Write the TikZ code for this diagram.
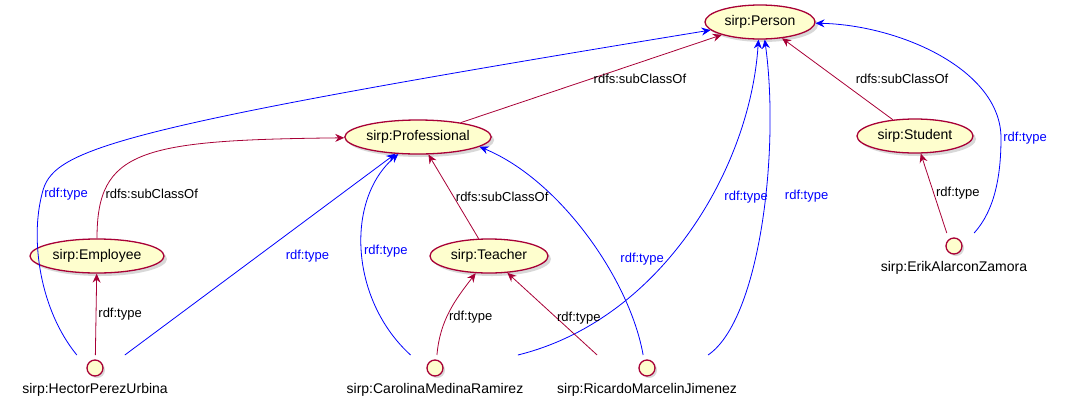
\documentclass[tikz,border=0pt]{standalone}
\usepackage{fontspec}
\setmainfont{Liberation Sans}
\usepackage{xcolor}
\usepackage{tikz}
\usetikzlibrary{arrows.meta, shapes.geometric, shadows}

\definecolor{umlred}{HTML}{A80036}
\definecolor{umlfill}{HTML}{FEFECE}
\definecolor{umlblue}{HTML}{0000FF}

\begin{document}
\begin{tikzpicture}[x=1pt, y=-1pt, >={Stealth[length=9pt, width=8pt, inset=3pt]},
        cls/.style={ellipse, draw=umlred, line width=1.3pt, fill=umlfill, minimum height=34pt, inner sep=0pt,
                font=\fontsize{14}{16}\selectfont, drop shadow={shadow xshift=3pt, shadow yshift=-3pt, fill=black!30}},
        inst/.style={anchor=north, inner sep=2pt, text height=36pt, text depth=4pt, font=\fontsize{14}{16}\selectfont},
        dot/.style={circle, draw=umlred, line width=1.3pt, fill=umlfill, minimum size=16pt, inner sep=0pt,
                drop shadow={shadow xshift=2pt, shadow yshift=-2pt, fill=black!30}},
        sub/.style={->, umlred, line width=0.8pt},
        typ/.style={->, umlblue, line width=0.8pt},
        lbl/.style={font=\fontsize{13}{15}\selectfont, text=black, inner sep=2pt},
        lblb/.style={lbl, text=umlblue}]
        \useasboundingbox (0,0) rectangle (1066,408);

        \node[cls, minimum width=110pt] (person) at (760,22) {sirp:Person};
        \node[cls, minimum width=144pt] (professional) at (418,137) {sirp:Professional};
        \node[cls, minimum width=116pt] (student) at (915,136) {sirp:Student};
        \node[cls, minimum width=134pt] (employee) at (97,256) {sirp:Employee};
        \node[cls, minimum width=118pt] (teacher) at (489,256) {sirp:Teacher};

        \node[inst] (hector) at (95,355) {sirp:HectorPerezUrbina};
        \node[inst] (carolina) at (435,355) {sirp:CarolinaMedinaRamirez};
        \node[inst] (ricardo) at (647,355) {sirp:RicardoMarcelinJimenez};
        \node[inst] (erik) at (954,233) {sirp:ErikAlarconZamora};
        \foreach \n in {hector, carolina, ricardo, erik}
                \node[dot] (\n-dot) at ([yshift=-13pt]\n.north) {};

        % subclasses
        \draw[sub] (professional) -- node[lbl, right] {rdfs:subClassOf} (person);
        \draw[sub] (student) -- node[lbl, right=16pt] {rdfs:subClassOf} (person);
        \draw[sub] (employee) .. controls (97,150) and (140,140) .. (professional)
                node[lbl, pos=.2, right] {rdfs:subClassOf};
        \draw[sub] (teacher) -- node[lbl, right] {rdfs:subClassOf} (professional);

        % instances
        \draw[sub] (hector) -- node[lbl, right] {rdf:type} (employee);
        \draw[typ] (hector) .. controls (40,310) and (30,240) .. (42,194) node[lblb, right] {rdf:type}
                .. controls (52,150) and (100,130) .. (person);
        \draw[typ] (hector) -- node[lblb, pos=.49, right=26pt] {rdf:type} (professional);
        \draw[typ] (carolina) .. controls (350,300) and (345,200) .. (professional)
                node[lblb, pos=.5, right] {rdf:type};
        \draw[sub] (carolina) .. controls (440,320) and (455,300) .. (teacher)
                node[lbl, pos=.42, right] {rdf:type};
        \draw[typ] (carolina.15) .. controls (660,320) and (750,170) .. (person.265)
                node[lblb, pos=.6, right=11pt] {rdf:type};
        \draw[sub] (ricardo.156) -- node[lbl, pos=.45, right=-2pt] {rdf:type} (teacher);
        \draw[typ] (ricardo) .. controls (630,280) and (560,180) .. (professional.-9)
                node[lblb, pos=.4, right=15pt] {rdf:type};
        \draw[typ] (ricardo.20) .. controls (760,320) and (780,150) .. (person.285)
                node[lblb, pos=.58, right=17pt] {rdf:type};
        \draw[sub] (erik) -- node[lbl, right] {rdf:type} (student);
        \draw[typ] (erik) .. controls (995,210) and (1001,175) .. (1001,138) node[lblb, right] {rdf:type}
                .. controls (1001,70) and (900,25) .. (person);
\end{tikzpicture}
\end{document}
